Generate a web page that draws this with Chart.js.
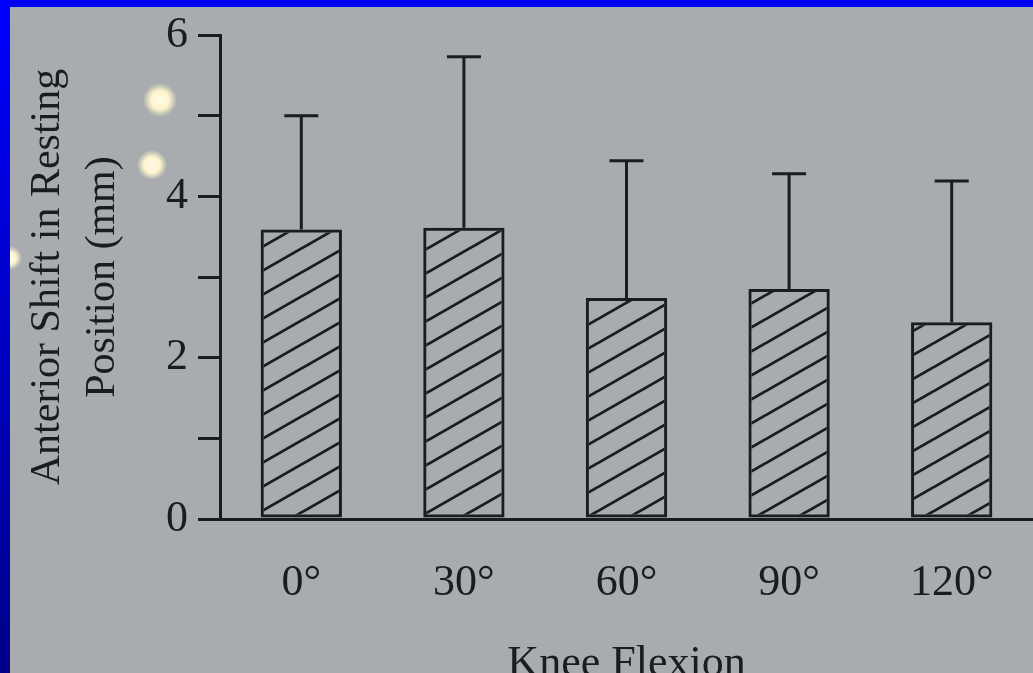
<!DOCTYPE html>
<html>
<head>
<meta charset="utf-8">
<script src="https://cdn.jsdelivr.net/npm/chart.js@4.4.0/dist/chart.umd.min.js"></script>
<style>
  html, body { margin: 0; padding: 0; width: 1033px; height: 673px; overflow: hidden; background: #0000f4; }
  #leftband { position: absolute; left: 0; top: 0; width: 10px; height: 673px; background: linear-gradient(#0000ff, #000088); }
  #frame {
    position: absolute; left: 10px; top: 7px; width: 1023px; height: 700px;
    background:
      radial-gradient(circle at 150px 93px, #fffbea 0, #fff4cc 9px, rgba(255,246,210,0) 17px),
      radial-gradient(circle at 142px 158px, #fffbea 0, #fff4cc 8px, rgba(255,246,210,0) 15px),
      radial-gradient(circle at 0px 251px, #fffbea 0, #fff4cc 6px, rgba(255,246,210,0) 12px),
      rgb(168, 172, 174);
  }
</style>
</head>
<body>
<div id="leftband"></div>
<div id="frame"><canvas id="shift"></canvas></div>
<script>
// knee flexion angle and anterior shift (mm), mean and upward SD
const angles = ['0°', '30°', '60°', '90°', '120°'];
const meanShift = [3.59, 3.61, 2.74, 2.85, 2.44];
const sdShift = [1.41, 2.12, 1.70, 1.43, 1.75];
const yLabelEvery = 2;

const ink = '#1b1b22';
const serif = 'Liberation Serif';

function hatch() {
  const c = document.createElement('canvas');
  c.width = 42; c.height = 24;
  const g = c.getContext('2d');
  g.strokeStyle = ink;
  g.lineWidth = 2.8;
  [-24, 0, 24].forEach(off => {
    g.beginPath();
    g.moveTo(-42, 48 + off);
    g.lineTo(84, -24 + off);
    g.stroke();
  });
  return g.createPattern(c, 'repeat');
}

// only the upper half of each error bar is drawn
const errorBars = {
  id: 'errorBars',
  afterDatasetsDraw(chart) {
    const ctx = chart.ctx;
    const y = chart.scales.y;
    chart.getDatasetMeta(0).data.forEach((bar, i) => {
      const top = y.getPixelForValue(meanShift[i] + sdShift[i]);
      ctx.save();
      ctx.strokeStyle = ink;
      ctx.lineWidth = 3;
      ctx.beginPath();
      ctx.moveTo(bar.x, bar.y);
      ctx.lineTo(bar.x, top);
      ctx.moveTo(bar.x - 17, top);
      ctx.lineTo(bar.x + 17, top);
      ctx.stroke();
      ctx.restore();
    });
  }
};

new Chart(document.getElementById('shift'), {
  type: 'bar',
  data: {
    labels: angles,
    datasets: [{
      data: meanShift,
      backgroundColor: hatch(),
      borderColor: ink,
      borderWidth: 3,
      borderSkipped: false,
      barPercentage: 0.5,
      categoryPercentage: 1
    }]
  },
  options: {
    responsive: true,
    maintainAspectRatio: false,
    animation: false,
    layout: { padding: { top: 28, left: 0, right: 0, bottom: 0 } },
    plugins: { legend: { display: false }, tooltip: { enabled: false } },
    scales: {
      x: {
        afterFit(s) { s.height = 188; },
        ticks: { padding: 38, color: ink, font: { family: serif, size: 44 } },
        grid: { drawOnChartArea: false, drawTicks: false, lineWidth: 3, color: ink },
        border: { color: ink, width: 3 },
        title: {
          display: true, text: 'Knee Flexion', color: ink,
          font: { family: serif, size: 44 }, padding: { top: 0, bottom: 16 }
        }
      },
      y: {
        min: 0, max: 6,
        afterFit(s) { s.width = 210; s.paddingTop = 0; s.paddingBottom = 0; },
        ticks: {
          stepSize: 1, padding: 10, color: ink,
          font: { family: serif, size: 44 },
          callback: v => (v % yLabelEvery === 0 ? v : '')
        },
        grid: { drawOnChartArea: false, tickLength: 22, lineWidth: 3, color: ink },
        border: { color: ink, width: 3 },
        title: {
          display: true, text: ['Anterior Shift in Resting', 'Position (mm)'], color: ink,
          font: { family: serif, size: 42, lineHeight: 1.3 }, padding: { top: 11, bottom: 0 }
        }
      }
    }
  },
  plugins: [errorBars]
});
</script>
</body>
</html>
